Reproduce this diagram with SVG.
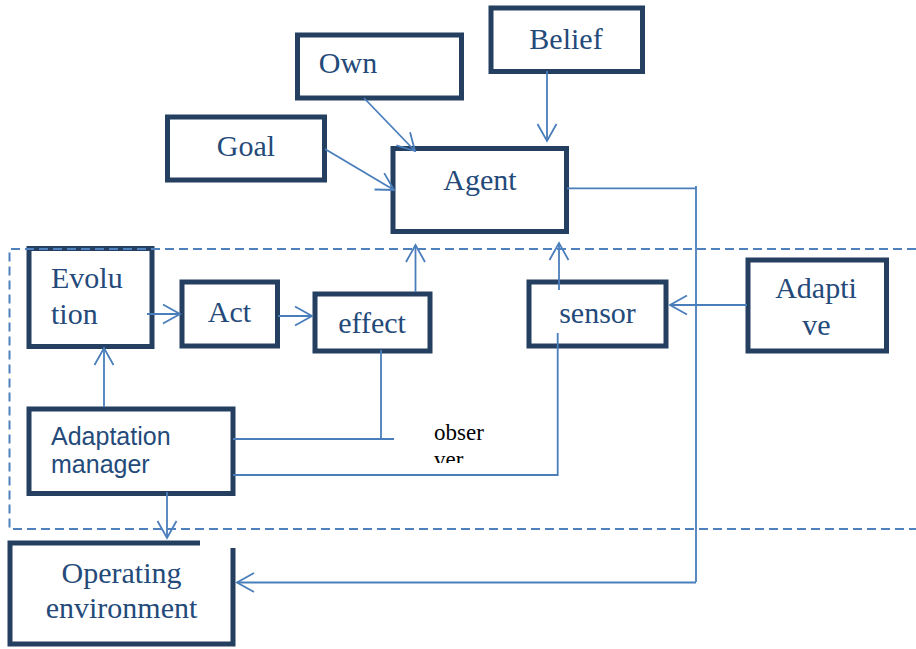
<svg xmlns="http://www.w3.org/2000/svg" width="916" height="649" viewBox="0 0 916 649">
  <style>
    .box { fill: #ffffff; stroke: #243f60; stroke-width: 5; }
    .lbl { font-family: "Liberation Serif", "Times New Roman", serif; font-size: 30px; fill: #244a7a; text-anchor: middle; }
    .lbl-s { font-family: "Liberation Sans", Arial, sans-serif; font-size: 25px; fill: #244a7a; }
    .note { font-family: "Liberation Serif", "Times New Roman", serif; font-size: 23px; fill: #000000; }
    .link { fill: none; stroke: #4a7ebb; stroke-width: 1.8; }
    .arrow { marker-end: url(#open-arrow); }
    .boundary { fill: none; stroke: #4f81bd; stroke-width: 2; stroke-dasharray: 9 5; }
  </style>
  <defs>
    <marker id="open-arrow" viewBox="-19 -11 21 22" refX="0" refY="0" markerWidth="21" markerHeight="22" markerUnits="userSpaceOnUse" orient="auto">
      <path d="M-17,-9.5 L0,0 L-17,9.5" fill="none" stroke="#4a7ebb" stroke-width="1.8"/>
    </marker>
    <clipPath id="note-clip">
      <rect x="420" y="410" width="100" height="53"/>
    </clipPath>
  </defs>

  <rect width="916" height="649" fill="#ffffff"/>

  <!-- nodes -->
  <g id="goal">
    <rect class="box" x="167.5" y="117" width="157" height="63"/>
    <text class="lbl" x="246" y="156">Goal</text>
  </g>
  <g id="own">
    <rect class="box" x="297.5" y="35" width="164" height="63"/>
    <text class="lbl" x="348" y="73">Own</text>
  </g>
  <g id="belief">
    <rect class="box" x="491" y="8" width="151.5" height="63.5"/>
    <text class="lbl" x="566" y="49">Belief</text>
  </g>
  <g id="agent">
    <rect class="box" x="393" y="148.5" width="173.5" height="83"/>
    <text class="lbl" x="480" y="190">Agent</text>
  </g>
  <g id="evolution">
    <rect class="box" x="29" y="248.5" width="123" height="98"/>
    <text class="lbl" x="51" y="288" style="text-anchor:start">Evolu</text>
    <text class="lbl" x="51" y="324" style="text-anchor:start">tion</text>
  </g>
  <g id="act">
    <rect class="box" x="182" y="282" width="95.5" height="64"/>
    <text class="lbl" x="229.5" y="322">Act</text>
  </g>
  <g id="effect">
    <rect class="box" x="315" y="294" width="115" height="57"/>
    <text class="lbl" x="372" y="333">effect</text>
  </g>
  <g id="sensor">
    <rect class="box" x="529" y="282" width="137" height="64"/>
    <text class="lbl" x="597.5" y="323">sensor</text>
  </g>
  <g id="adaptive">
    <rect class="box" x="748" y="260" width="138.5" height="91"/>
    <text class="lbl" x="816" y="298">Adapti</text>
    <text class="lbl" x="816.5" y="335">ve</text>
  </g>
  <g id="adaptation-manager">
    <rect class="box" x="29" y="409" width="204" height="84.5"/>
    <text class="lbl-s" x="51" y="445">Adaptation</text>
    <text class="lbl-s" x="51" y="473">manager</text>
  </g>
  <g id="operating-environment">
    <path class="box" d="M200,543 H10 V644 H233 V548"/>
    <text class="lbl" x="121.5" y="583">Operating</text>
    <text class="lbl" x="121.5" y="618">environment</text>
  </g>
  <g id="observer">
    <g clip-path="url(#note-clip)">
      <text class="note" x="434" y="440">obser</text>
      <text class="note" x="434" y="467">ver</text>
    </g>
  </g>

  <!-- connectors -->
  <g id="connectors">
    <path class="link arrow" d="M325,149 L394,190"/>
    <path class="link arrow" d="M364,98 L415,151"/>
    <path class="link arrow" d="M547,71 V141"/>
    <path class="link" d="M567,188.3 H696 M696,186 V582"/>
    <path class="link arrow" d="M696,582.5 H237"/>
    <path class="link arrow" d="M747,305 H670"/>
    <path class="link arrow" d="M559,290 V243"/>
    <path class="link arrow" d="M415.5,292 V245"/>
    <path class="link arrow" d="M147,314 H180"/>
    <path class="link arrow" d="M278,316 H312"/>
    <path class="link arrow" d="M104,407 V348"/>
    <path class="link" d="M381,350 V439 M233,439 H394"/>
    <path class="link" d="M557.7,333 V475 H233"/>
    <path class="link arrow" d="M167,492 V538"/>
  </g>

  <!-- dashed system boundary -->
  <path class="boundary" d="M916,249 H9.5 V529 H916"/>
</svg>
